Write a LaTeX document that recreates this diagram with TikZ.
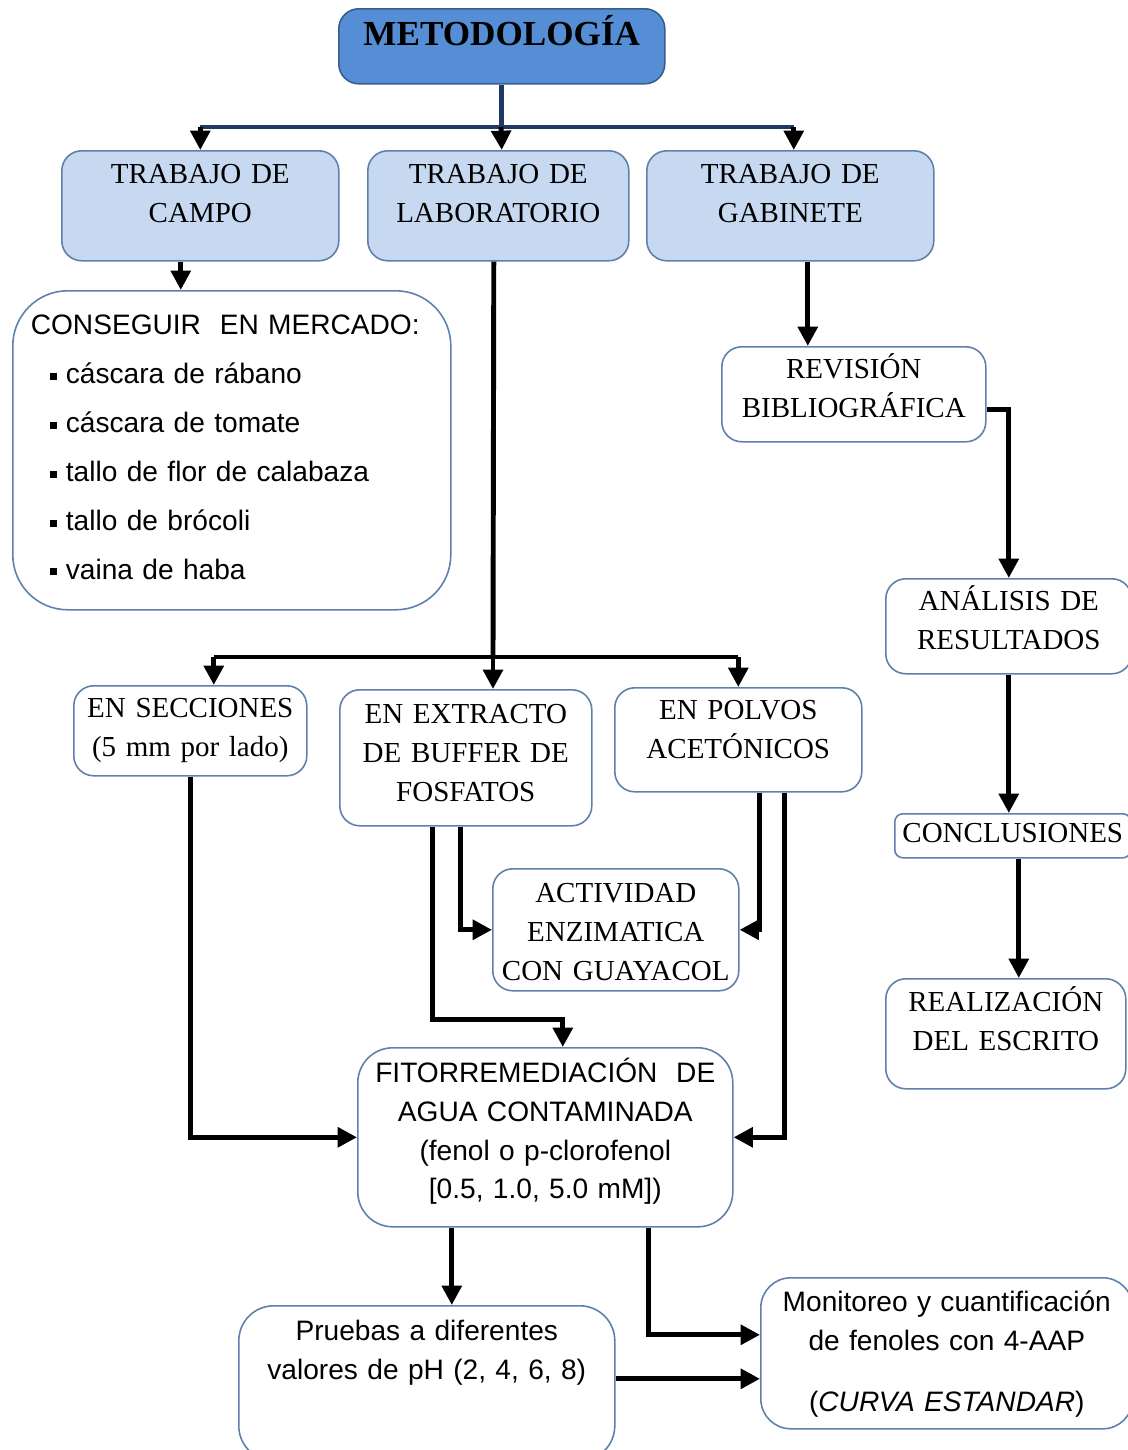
\documentclass[tikz,border=0pt]{standalone}
\usepackage{fontspec}
\setmainfont{Liberation Serif}
\setsansfont{Liberation Sans}
\usepackage{tikz}
\usetikzlibrary{arrows.meta}
\newdimen\pxu \pxu=0.02cm
\definecolor{metofill}{RGB}{85,142,213}
\definecolor{metoline}{RGB}{56,93,138}
\definecolor{workfill}{RGB}{198,217,241}
\definecolor{boxline}{RGB}{96,128,172}
\definecolor{navyline}{RGB}{31,56,100}
\newcommand{\mercitem}{\par\hspace*{11pt}\rule[2pt]{4pt}{4pt}\hspace{5pt}}

\begin{document}
\begin{tikzpicture}[x=0.02cm, y=-0.02cm]
  \tikzset{
    box/.style={draw=boxline, line width=0.9pt, rectangle, rounded corners=20\pxu, anchor=north west, inner ysep=0pt, inner xsep=4\pxu, align=center, fill=white},
    serifbox/.style={box, font=\fontsize{16.5}{22}\selectfont},
    sansbox/.style={box, font=\sffamily\fontsize{16}{22}\selectfont},
    top/.style={box, fill=metofill, draw=metoline, font=\fontsize{20}{24}\selectfont\bfseries},
    work/.style={serifbox, fill=workfill},
    line/.style={draw, -{Triangle[length=11pt, width=11pt]}, line width=2.8pt},
    bar/.style={draw, line width=2.8pt},
  }
  \useasboundingbox (0,0) rectangle (1128,1450);

  \node [top, text width=318\pxu, text height=37\pxu, text depth=38\pxu] (meto) at (338,8) {METODOLOGÍA};

  \node [work, text width=269\pxu, text height=33\pxu, text depth=77\pxu] (campo) at (61,150) {TRABAJO DE\\CAMPO};
  \node [work, text width=253\pxu, text height=33\pxu, text depth=77\pxu] (lab) at (367,150) {TRABAJO DE\\LABORATORIO};
  \node [work, text width=279\pxu, text height=33\pxu, text depth=77\pxu] (gab) at (646,150) {TRABAJO DE\\GABINETE};

  \node [sansbox, rounded corners=55\pxu, align=left, inner xsep=18\pxu, text width=402\pxu, text height=44\pxu, text depth=275\pxu,
         font=\sffamily\fontsize{16}{27.8}\selectfont] (merc) at (12,290)
    {CONSEGUIR\ \ EN MERCADO:\mercitem cáscara de rábano\mercitem cáscara de tomate\mercitem tallo de flor de calabaza\mercitem tallo de brócoli\mercitem vaina de haba};

  \node [serifbox, text width=256\pxu, text height=32\pxu, text depth=63\pxu] (revis) at (721,346) {REVISIÓN\\BIBLIOGRÁFICA};
  \node [serifbox, text width=238\pxu, text height=32\pxu, text depth=63\pxu] (anal) at (885,578) {ANÁLISIS DE\\RESULTADOS};
  \node [serifbox, rounded corners=8\pxu, text width=228\pxu, text height=29\pxu, text depth=15\pxu] (concl) at (894,813) {CONCLUSIONES};
  \node [serifbox, text width=232\pxu, text height=33\pxu, text depth=77\pxu] (realiz) at (885,978) {REALIZACIÓN\\DEL ESCRITO};

  \node [serifbox, text width=225\pxu, text height=32\pxu, text depth=58\pxu] (secc) at (73,685) {EN SECCIONES\\(5 mm por lado)};
  \node [serifbox, text width=244\pxu, text height=34\pxu, text depth=102\pxu] (extr) at (339,689) {EN EXTRACTO\\DE BUFFER DE\\FOSFATOS};
  \node [serifbox, text width=239\pxu, text height=32\pxu, text depth=72\pxu] (polv) at (614,687) {EN POLVOS\\ACETÓNICOS};
  \node [serifbox, text width=238\pxu, text height=34\pxu, text depth=88\pxu] (activ) at (492,868) {ACTIVIDAD\\ENZIMATICA\\CON GUAYACOL};

  \node [sansbox, rounded corners=35\pxu, text width=367\pxu, text height=35\pxu, text depth=144\pxu] (fito) at (357,1047)
    {FITORREMEDIACIÓN\ \ DE\\AGUA CONTAMINADA\\(fenol o p-clorofenol\\{[}0.5, 1.0, 5.0 mM{]})};
  \node [sansbox, rounded corners=35\pxu, text width=368\pxu, text height=35\pxu, text depth=120\pxu] (prueb) at (238,1305)
    {Pruebas a diferentes\\valores de pH (2, 4, 6, 8)};
  \node [sansbox, rounded corners=30\pxu, text width=364\pxu, text height=34\pxu, text depth=117\pxu] (monit) at (760,1277)
    {Monitoreo y cuantificación\\de fenoles con 4-AAP\\[12.6pt](\textit{CURVA ESTANDAR})};

  % metodologia -> trabajos
  \coordinate (topbar) at (501,127);
  \draw [bar, navyline] (meto.south) -- (meto.south |- topbar);
  \draw [bar, navyline] (campo.north |- topbar) -- ([xshift=3.5\pxu]gab.north |- topbar);
  \path [line] (campo.north |- topbar) -- (campo.north);
  \path [line] (topbar) -- (meto.south |- lab.north);
  \path [line] ([xshift=3.5\pxu]gab.north |- topbar) -- ([xshift=3.5\pxu]gab.north);

  \path [line] ([xshift=-19.5\pxu]campo.south) -- ([xshift=-19.5\pxu]campo.south |- merc.north);

  % laboratorio
  \coordinate (labbar) at (493,657);
  \draw [bar] ([xshift=-4.5\pxu]lab.south) -- (labbar);
  \draw [bar] ([xshift=23.5\pxu]secc.north |- labbar) -- (polv.north |- labbar);
  \path [line] ([xshift=23.5\pxu]secc.north |- labbar) -- ([xshift=23.5\pxu]secc.north);
  \path [line] (labbar) -- (labbar |- extr.north);
  \path [line] (polv.north |- labbar) -- (polv.north);

  \path [line] (secc.south) |- (fito.west);
  \path [line] ([xshift=-33\pxu]extr.south) -- ++(0,193) -| ([xshift=17.5\pxu]fito.north);
  \path [line] ([xshift=-5\pxu]extr.south) |- (activ.west);
  \path [line] ([xshift=21.5\pxu]polv.south) |- (activ.east);
  \path [line] ([xshift=46.5\pxu]polv.south) |- (fito.east);

  \path [line] ([xshift=-93.5\pxu]fito.south) -- ([xshift=-93.5\pxu]fito.south |- prueb.north);
  \path [line] ([xshift=103.5\pxu]fito.south) |- ([yshift=18.5\pxu]monit.west);
  \path [line] ([yshift=4.5\pxu]prueb.east) -- ([yshift=4.5\pxu]prueb.east -| monit.west);

  % gabinete
  \path [line] ([xshift=17.5\pxu]gab.south) -- ([xshift=17.5\pxu]gab.south |- revis.north);
  \path [line] ([yshift=-15\pxu]revis.east) -| (anal.north);
  \path [line] (anal.south) -- (anal.south |- concl.north);
  \path [line] ([xshift=6\pxu]concl.south) -- ([xshift=6\pxu]concl.south |- realiz.north);
\end{tikzpicture}
\end{document}
